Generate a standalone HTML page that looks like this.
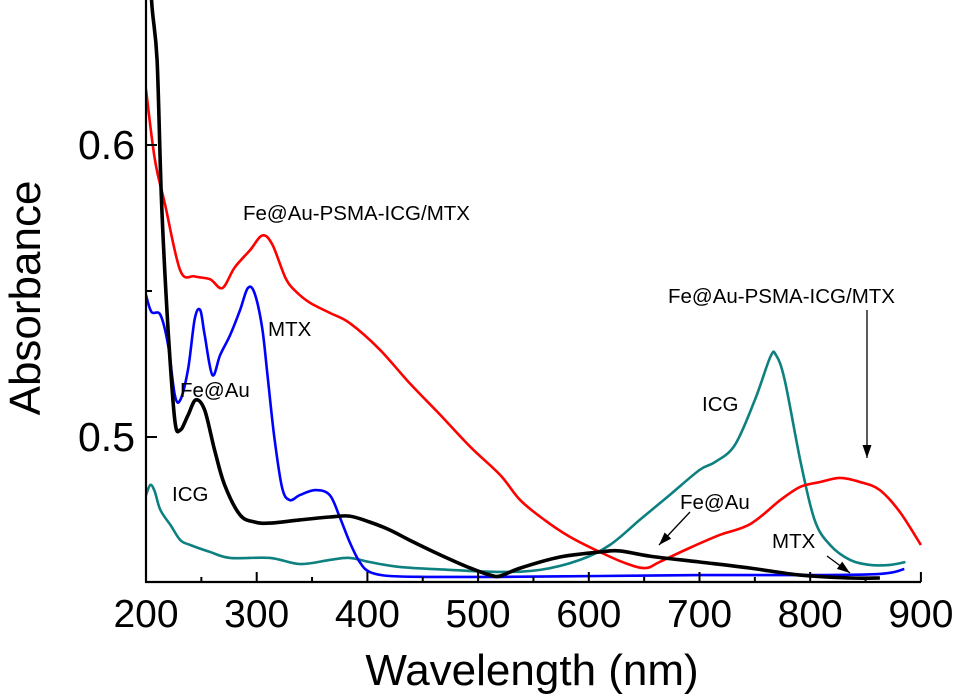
<!DOCTYPE html>
<html><head><meta charset="utf-8"><style>
html,body{margin:0;padding:0;background:#fff;}
svg{display:block;font-family:"Liberation Sans",Arial,sans-serif;}
</style></head><body>
<svg id="chart" width="957" height="698" viewBox="0 0 957 698">
<defs><clipPath id="plotclip"><rect x="146" y="0" width="776" height="582"/></clipPath></defs>
<g id="series" clip-path="url(#plotclip)"></g>
<g id="axes"></g>
<g id="labels"></g>
</svg>
<script>
const xTicks=[200,300,400,500,600,700,800,900];
const xMinor=[250,350,450,550,650,750,850];
const yTicks=[0.5,0.6];
const yTickLabels=["0.5","0.6"];
const yMinor=[0.55];
// Fe@Au-PSMA-ICG/MTX (red)
const redX=[200,208,217,231,244,258,269,280,294,305,314,326,335,348,366,384,411,438,466,493,520,538,560,583,610,633,651,664,691,718,746,773,791,809,827,845,863,881,900];
const redY=[0.619,0.595,0.580,0.557,0.555,0.554,0.551,0.558,0.564,0.569,0.566,0.5545,0.550,0.546,0.5425,0.539,0.530,0.5185,0.5075,0.4966,0.487,0.4784,0.4716,0.4658,0.4606,0.4568,0.4551,0.4572,0.462,0.4664,0.4702,0.4784,0.4829,0.4846,0.486,0.4846,0.4818,0.4743,0.463];
// MTX (blue)
const blueX=[200,205,213,220,226,231,238,244,249,253,260,267,276,285,292,298,305,310,316,323,330,339,353,366,375,384,393,402,420,456,520,610,700,791,863,885];
const blueY=[0.5486,0.5428,0.5418,0.5315,0.5144,0.5127,0.5233,0.5404,0.5435,0.5349,0.5212,0.5281,0.5349,0.5435,0.551,0.5493,0.5373,0.5202,0.4997,0.4825,0.4784,0.4801,0.4818,0.4801,0.4726,0.464,0.4572,0.4538,0.4524,0.4521,0.4521,0.4524,0.4527,0.4527,0.4531,0.4548];
// Fe@Au (black)
const blackX=[203,205,210,214,220,226,231,238,245,253,262,271,285,298,312,339,366,384,402,420,438,466,493,511,520,538,574,610,628,655,700,746,791,836,863];
const blackY=[0.68,0.65,0.629,0.581,0.5366,0.5058,0.5024,0.5075,0.5127,0.5092,0.4955,0.4836,0.4733,0.4709,0.4705,0.4716,0.4726,0.4729,0.4709,0.4682,0.4647,0.4596,0.4551,0.4527,0.4524,0.4551,0.4589,0.4606,0.461,0.4592,0.4572,0.4551,0.4527,0.4517,0.4517];
// ICG (teal)
const tealX=[200,204,208,213,222,231,240,258,276,312,339,366,384,402,429,475,520,556,592,619,646,673,700,714,732,750,764,769,777,791,804,818,836,854,872,886];
const tealY=[0.4801,0.4836,0.4812,0.475,0.4699,0.4647,0.463,0.4606,0.4586,0.4586,0.4565,0.4579,0.4586,0.4572,0.4555,0.4545,0.4538,0.4545,0.4579,0.463,0.4716,0.4801,0.4887,0.4914,0.4973,0.5127,0.5274,0.5281,0.5195,0.4921,0.4716,0.463,0.4579,0.4562,0.4562,0.4572];

const NS="http://www.w3.org/2000/svg";
function xs(v){return 146+(v-200)*1.107;}
function ys(v){return 437-(v-0.5)*2920;}
function mk(tag,attrs,parent){const e=document.createElementNS(NS,tag);for(const k in attrs)e.setAttribute(k,attrs[k]);parent.appendChild(e);return e;}
const S=document.getElementById('series'),A=document.getElementById('axes');
function smoothPath(xa,ya){
  const p=xa.map((x,i)=>[xs(x),ys(ya[i])]);
  let d='M'+p[0][0].toFixed(1)+','+p[0][1].toFixed(1);
  for(let i=0;i<p.length-1;i++){
    const p0=p[Math.max(0,i-1)],p1=p[i],p2=p[i+1],p3=p[Math.min(p.length-1,i+2)];
    const c1x=p1[0]+(p2[0]-p0[0])/6,c1y=p1[1]+(p2[1]-p0[1])/6;
    const c2x=p2[0]-(p3[0]-p1[0])/6,c2y=p2[1]-(p3[1]-p1[1])/6;
    d+=' C'+c1x.toFixed(1)+','+c1y.toFixed(1)+' '+c2x.toFixed(1)+','+c2y.toFixed(1)+' '+p2[0].toFixed(1)+','+p2[1].toFixed(1);
  }
  return d;
}
function line(xa,ya,color,w,name){
  const p=mk('path',{d:smoothPath(xa,ya),fill:'none',stroke:color,'stroke-width':w,'stroke-linejoin':'round'},S);
  
  
}
line(tealX,tealY,'#0e8080',2.6,'icg-line');
line(redX,redY,'#ff0000',2.6,'fe-au-psma-icg-mtx-line');
line(blueX,blueY,'#0000ff',2.6,'mtx-line');
line(blackX,blackY,'#000000',3.6,'fe-au-line');

const ax=mk('path',{d:'M146,0 L146,582 L921,582',fill:'none',stroke:'#000','stroke-width':2.2},A);


xTicks.forEach(v=>{
  const t=mk('line',{x1:xs(v),x2:xs(v),y1:582,y2:572,stroke:'#000','stroke-width':2},A);
  
  
  const tx=mk('text',{x:xs(v),y:627,'font-size':39,'text-anchor':'middle'},A);
  tx.textContent=String(v);
  
  
});
xMinor.forEach(v=>{
  const t=mk('line',{x1:xs(v),x2:xs(v),y1:582,y2:577,stroke:'#000','stroke-width':2},A);
  
  
});
yTicks.forEach((v,i)=>{
  const t=mk('line',{x1:146,x2:157,y1:ys(v),y2:ys(v),stroke:'#000','stroke-width':2},A);
  
  
  const tx=mk('text',{x:135,y:ys(v)+14,'font-size':41,'text-anchor':'end'},A);
  tx.textContent=yTickLabels[i];
  
  
});
yMinor.forEach(v=>{
  const t=mk('line',{x1:146,x2:152,y1:ys(v),y2:ys(v),stroke:'#000','stroke-width':2},A);
  
  
});
</script>
<script>
(function(){
const NS="http://www.w3.org/2000/svg";
const L=document.getElementById('labels');
function txt(x,y,s,size,name,anchor,rot){
  const t=document.createElementNS(NS,'text');
  t.setAttribute('x',x);t.setAttribute('y',y);t.setAttribute('font-size',size);
  t.setAttribute('text-anchor',anchor||'start');
  if(rot)t.setAttribute('transform',rot);
  t.textContent=s;
  
  
  L.appendChild(t);
}
txt(532,685,'Wavelength (nm)',44,'x-axis-title','middle');
txt(40,298,'Absorbance',44,'y-axis-title','middle','rotate(-90 40 298)');
txt(243,220,'Fe@Au-PSMA-ICG/MTX',20.5,'label-red-left');
txt(268,336,'MTX',20.5,'label-mtx-left');
txt(180,397,'Fe@Au',20.5,'label-feau-left');
txt(172,501,'ICG',20.5,'label-icg-left');
txt(668,303,'Fe@Au-PSMA-ICG/MTX',20.5,'label-red-right');
txt(702,411,'ICG',20.5,'label-icg-right');
txt(680,509,'Fe@Au',20.5,'label-feau-right');
txt(772,548,'MTX',20.5,'label-mtx-right');
function arrow(x1,y1,x2,y2,name){
  const g=document.createElementNS(NS,'g');
  
  
  const ln=document.createElementNS(NS,'line');
  ln.setAttribute('x1',x1);ln.setAttribute('y1',y1);ln.setAttribute('x2',x2);ln.setAttribute('y2',y2);
  ln.setAttribute('stroke','#000');ln.setAttribute('stroke-width',1.3);
  g.appendChild(ln);
  const a=Math.atan2(y2-y1,x2-x1),h=13,w=4.5;
  const bx=x2-h*Math.cos(a),by=y2-h*Math.sin(a);
  const p=document.createElementNS(NS,'polygon');
  p.setAttribute('points',x2+','+y2+' '+(bx-w*Math.sin(a))+','+(by+w*Math.cos(a))+' '+(bx+w*Math.sin(a))+','+(by-w*Math.cos(a)));
  g.appendChild(p);
  L.appendChild(g);
}
arrow(867,310,867,458,'arrow-red');
arrow(690,512,659,545,'arrow-feau');
arrow(827,556,850,573,'arrow-mtx');
})();
</script>
</body></html>
